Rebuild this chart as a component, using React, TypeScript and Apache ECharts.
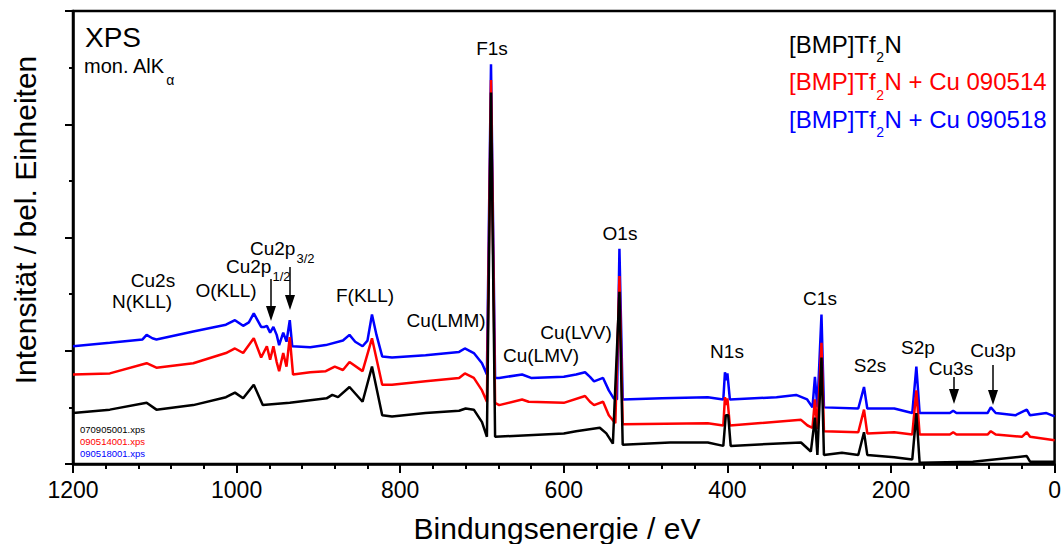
import React, { useEffect, useRef } from "react";
import * as echarts from "echarts";

// ---------- data (binding energy eV, intensity a.u.) ----------
const blueSpectrum: [number, number][] = [
  [1200, 1.04], [1155, 1.07], [1115, 1.1], [1110, 1.14], [1103, 1.11], [1098, 1.1], [1053, 1.17],
  [1013, 1.23], [1002, 1.27], [992, 1.22], [985, 1.25], [979, 1.33], [973, 1.25], [970, 1.21],
  [966, 1.21], [963, 1.22], [959, 1.16], [955, 1.21], [951, 1.14], [948, 1.05], [943, 1.16],
  [939, 1.08], [935, 1.27], [932, 1.04], [910, 1.03], [891, 1.05], [870, 1.09], [862, 1.14],
  [855, 1.08], [846, 1.04], [840, 1.09], [834.5, 1.32], [829, 1.14], [822, 0.95], [810, 0.94],
  [769, 0.96], [728, 0.99], [721, 1.02], [710, 0.98], [700, 0.89], [694, 0.79], [689, 3.53],
  [684, 0.76], [679, 0.76], [651, 0.79], [640, 0.76], [600, 0.77], [585, 0.79], [574, 0.81],
  [568, 0.77], [563, 0.73], [552, 0.76], [545, 0.65], [539, 0.58], [535, 0.57], [532, 1.9],
  [528, 0.57], [480, 0.58], [424, 0.59], [405, 0.57], [403, 0.81], [401, 0.74], [400, 0.8],
  [397, 0.57], [340, 0.59], [316, 0.61], [302.5, 0.57], [296, 0.5], [293, 0.77], [290, 0.5],
  [285, 1.32], [282, 0.5], [240, 0.49], [233, 0.68], [229, 0.49], [196, 0.49], [174, 0.45],
  [169, 0.86], [165, 0.45], [128, 0.45], [124, 0.47], [120, 0.45], [82, 0.45], [78, 0.5],
  [72, 0.45], [48, 0.43], [34, 0.48], [30, 0.43], [10, 0.45], [0, 0.42],
];

const redSpectrum: [number, number][] = [
  [1200, 0.79], [1155, 0.8], [1110, 0.89], [1098, 0.85], [1053, 0.89], [1013, 0.98], [1002, 1.02],
  [992, 0.98], [979, 1.11], [970, 0.94], [963, 1.04], [959, 0.92], [955, 1.04], [951, 0.9],
  [948, 0.82], [943, 0.98], [939, 0.86], [935, 1.12], [931, 0.79], [910, 0.81], [891, 0.82],
  [880, 0.86], [870, 0.83], [862, 0.9], [846, 0.82], [834.5, 1.11], [822, 0.7], [810, 0.7],
  [769, 0.73], [728, 0.76], [721, 0.8], [710, 0.76], [700, 0.65], [694, 0.55], [689, 3.39],
  [684, 0.54], [679, 0.52], [651, 0.57], [643, 0.55], [600, 0.54], [574, 0.6], [568, 0.55],
  [563, 0.52], [552, 0.55], [545, 0.43], [537, 0.36], [532, 1.66], [528, 0.35], [424, 0.36],
  [405, 0.34], [403, 0.59], [401, 0.52], [400, 0.58], [397, 0.34], [310, 0.39], [302, 0.34],
  [296, 0.32], [293, 0.57], [290, 0.31], [285, 1.07], [282, 0.29], [240, 0.28], [233, 0.48],
  [229, 0.27], [196, 0.28], [174, 0.26], [169, 0.65], [165, 0.26], [128, 0.26], [124, 0.28],
  [120, 0.26], [82, 0.26], [78, 0.29], [72, 0.26], [40, 0.24], [34, 0.28], [30, 0.24], [0, 0.21],
];

const blackSpectrum: [number, number][] = [
  [1200, 0.45], [1155, 0.48], [1110, 0.54], [1098, 0.48], [1053, 0.52], [1013, 0.59], [1002, 0.63],
  [992, 0.58], [979, 0.7], [968, 0.52], [935, 0.54], [890, 0.58], [883, 0.61], [876, 0.59],
  [862, 0.68], [846, 0.55], [834.5, 0.86], [822, 0.43], [810, 0.42], [769, 0.45], [728, 0.47],
  [720, 0.49], [710, 0.48], [700, 0.37], [694, 0.24], [689, 3.28], [684, 0.24], [600, 0.27],
  [585, 0.29], [556, 0.32], [548, 0.27], [540, 0.18], [532, 1.52], [528, 0.17], [470, 0.19],
  [424, 0.19], [405, 0.16], [402, 0.43], [399, 0.43], [396, 0.16], [310, 0.19], [298, 0.11],
  [293, 0.41], [290, 0.08], [285, 0.94], [282, 0.08], [260, 0.1], [240, 0.08], [233, 0.28],
  [229, 0.08], [196, 0.06], [174, 0.04], [169, 0.45], [165, 0.01], [100, 0.02], [34, 0.07],
  [30, 0.02], [0, 0.02],
];

const seriesNames = ["[BMP]Tf2N", "[BMP]Tf2N + Cu 090514", "[BMP]Tf2N + Cu 090518"];
const legendSuffix = ["", " + Cu 090514", " + Cu 090518"];
const fileNames = ["070905001.xps", "090514001.xps", "090518001.xps"];
const colors = ["#000000", "#ff0000", "#0000ff"];
const xTicks = { min: 0, max: 1200, step: 200 };

// ---------- layout (annotation positions in px) ----------
const peakLabels = [
  { t: "Cu2s", x: 153, y: 280 },
  { t: "N(KLL)", x: 142, y: 301 },
  { t: "O(KLL)", x: 226, y: 290 },
  { t: "F(KLL)", x: 365, y: 295 },
  { t: "Cu(LMM)", x: 446, y: 320 },
  { t: "F1s", x: 492, y: 48 },
  { t: "O1s", x: 620, y: 233 },
  { t: "Cu(LVV)", x: 576, y: 332 },
  { t: "Cu(LMV)", x: 541, y: 355 },
  { t: "N1s", x: 727, y: 351 },
  { t: "C1s", x: 820, y: 298 },
  { t: "S2s", x: 870, y: 365 },
  { t: "S2p", x: 918, y: 347 },
  { t: "Cu3s", x: 951, y: 368 },
  { t: "Cu3p", x: 993, y: 350 },
];
const subLabels = [
  { main: "Cu2p", sub: "1/2", x: 226, y: 266 },
  { main: "Cu2p", sub: "3/2", x: 250, y: 248 },
];
const arrows = [
  { x: 271, y1: 279, y2: 321 },
  { x: 290, y1: 267, y2: 310 },
  { x: 954, y1: 377, y2: 404 },
  { x: 993, y1: 365, y2: 405 },
];

const FONT = '"Liberation Sans", Arial, Helvetica, sans-serif';

function txt(text: string, x: number, y: number, size: number, color = "#000", align = "left", extra: any = {}) {
  return {
    type: "text",
    x,
    y,
    z: 100,
    ...extra,
    style: {
      text,
      fill: color,
      fontSize: size,
      fontFamily: FONT,
      textAlign: align,
      align,
      textVerticalAlign: "middle",
      verticalAlign: "middle",
    },
  };
}

export default function App() {
  const ref = useRef<HTMLDivElement>(null);
  useEffect(() => {
    const chart = echarts.init(ref.current!, null, { renderer: "svg" });
    const ctx = document.createElement("canvas").getContext("2d")!;
    const tw = (t: string, size: number) => {
      ctx.font = `${size}px ${FONT}`;
      return ctx.measureText(t).width;
    };

    const graphic: any[] = [];
    // title
    graphic.push(txt("XPS", 85, 37, 28));
    graphic.push(txt("mon. AlK", 84, 66, 20));
    graphic.push(txt("α", 84 + tw("mon. AlK", 20) + 1, 80, 14));
    // legend text (top right)
    const legY = [44, 81.5, 119];
    for (let i = 0; i < 3; i++) {
      let x = 789;
      graphic.push(txt("[BMP]Tf", x, legY[i], 24, colors[i]));
      x += tw("[BMP]Tf", 24);
      graphic.push(txt("2", x + 0.5, legY[i] + 13, 14, colors[i]));
      x += tw("2", 14) + 1;
      graphic.push(txt("N" + legendSuffix[i], x, legY[i], 24, colors[i]));
    }
    // file names
    const fy = [429, 441, 453];
    fileNames.forEach((f, i) => graphic.push(txt(f, 80, fy[i], 9.5, colors[i])));
    // peak labels
    peakLabels.forEach((p) => graphic.push(txt(p.t, p.x, p.y, 19, "#000", "center")));
    subLabels.forEach((p) => {
      graphic.push(txt(p.main, p.x, p.y, 19));
      graphic.push(txt(p.sub, p.x + tw(p.main, 19) + 1, p.y + 10, 13));
    });
    // arrows
    arrows.forEach((a) => {
      graphic.push({
        type: "line",
        z: 100,
        shape: { x1: a.x, y1: a.y1, x2: a.x, y2: a.y2 - 12 },
        style: { stroke: "#000", lineWidth: 1.5 },
      });
      graphic.push({
        type: "polygon",
        z: 100,
        shape: { points: [[a.x - 5, a.y2 - 15], [a.x + 5, a.y2 - 15], [a.x, a.y2]] },
        style: { fill: "#000" },
      });
    });
    // axis names
    graphic.push(txt("Bindungsenergie / eV", 557, 528, 30, "#000", "center"));
    graphic.push(txt("Intensität / bel. Einheiten", 25, 220, 30, "#000", "center", { rotation: Math.PI / 2 }));

    const mk = (i: number, data: [number, number][]) => ({
      type: "line",
      name: seriesNames[i],
      data,
      symbol: "none",
      showSymbol: false,
      lineStyle: { color: colors[i], width: 2.5 },
      itemStyle: { color: colors[i] },
      z: 2,
    });

    chart.setOption({
      animation: false,
      grid: { left: 73, right: 7, top: 11, bottom: 80, show: true, borderColor: "#000", borderWidth: 2.5, backgroundColor: "transparent" },
      xAxis: {
        type: "value",
        min: xTicks.min,
        max: xTicks.max,
        interval: xTicks.step,
        inverse: true,
        axisLine: { show: true, onZero: false, lineStyle: { color: "#000", width: 2.5 } },
        axisTick: { show: true, length: 9, lineStyle: { color: "#000", width: 2 } },
        minorTick: { show: true, splitNumber: 5, length: 5, lineStyle: { color: "#000", width: 2 } },
        splitLine: { show: false },
        axisLabel: { color: "#000", fontSize: 23, fontFamily: FONT, margin: 14, formatter: (v: number) => String(v) },
      },
      yAxis: {
        type: "value",
        min: 0,
        max: 4,
        interval: 1,
        axisLine: { show: true, onZero: false, lineStyle: { color: "#000", width: 2.5 } },
        axisTick: { show: true, length: 8, lineStyle: { color: "#000", width: 2 } },
        minorTick: { show: true, splitNumber: 2, length: 4, lineStyle: { color: "#000", width: 2 } },
        splitLine: { show: false },
        axisLabel: { show: false },
      },
      series: [mk(2, blueSpectrum), mk(1, redSpectrum), mk(0, blackSpectrum)],
      graphic,
    });
    return () => chart.dispose();
  }, []);
  return <div ref={ref} style={{ position: "fixed", left: 0, top: 0, width: 1064, height: 544, background: "#fff" }} />;
}
